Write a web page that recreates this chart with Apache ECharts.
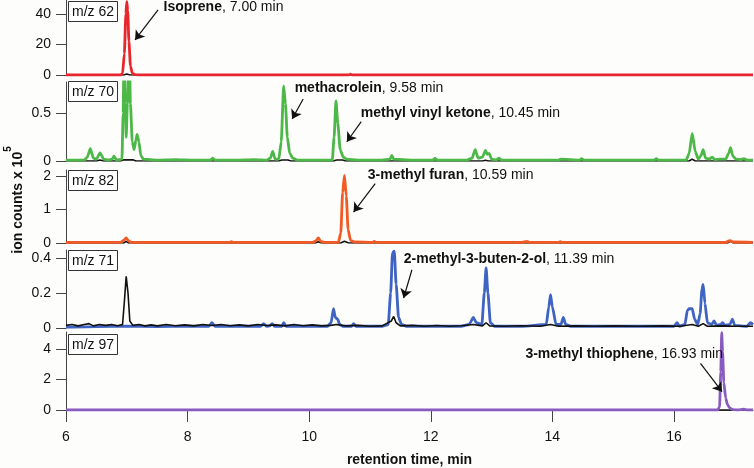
<!DOCTYPE html>
<html>
<head>
<meta charset="utf-8">
<script src="https://cdn.jsdelivr.net/npm/echarts@6/dist/echarts.min.js"></script>
<style>
html,body{margin:0;padding:0;background:#fdfdfb;}
#chart{width:754px;height:468px;}
</style>
</head>
<body>
<div id="chart"></div>
<script>
// ---------- DATA ----------
const panelLabels = ['m/z 62', 'm/z 70', 'm/z 82', 'm/z 71', 'm/z 97'];
const xTicks = [6, 8, 10, 12, 14, 16];
const yTicks = [[0, 20, 40], [0, 0.5], [0, 1, 2], [0, 0.2, 0.4], [0, 2, 4]];
const compounds = ['Isoprene', 'methacrolein', 'methyl vinyl ketone', '3-methyl furan', '2-methyl-3-buten-2-ol', '3-methyl thiophene'];
const retentionTimes = ['7.00', '9.58', '10.45', '10.59', '11.39', '16.93'];

// m/z 62 (red) and black reference trace
const mz62 = [[6.0,0],[6.9,0],[6.93,1],[6.96,14],[6.985,40],[7.0,48],[7.015,42],[7.035,22],[7.06,6],[7.09,1.2],[7.13,0.2],[7.2,0],[10.65,0],[10.68,0.5],[10.71,0],[17.3,0]];
const mz62ref = [[6.0,0],[6.95,0],[7.0,0.6],[7.05,0],[17.3,0]];

// m/z 70 (green)
const mz70 = [[6.0,0.01],[6.3,0.01],[6.35,0.04],[6.40,0.13],[6.45,0.03],[6.5,0.02],[6.56,0.085],[6.62,0.02],[6.7,0.01],[6.76,0.02],[6.79,0.05],[6.83,0.01],[6.92,0.02],[6.94,0.5],[6.955,1.2],[6.975,0.6],[6.99,0.25],[7.01,0.6],[7.04,1.2],[7.06,0.6],[7.09,0.2],[7.12,0.12],[7.15,0.22],[7.17,0.28],[7.2,0.2],[7.23,0.06],[7.27,0.02],[7.5,0.01],[7.8,0.015],[8.1,0.01],[8.38,0.01],[8.41,0.03],[8.45,0.01],[8.8,0.01],[9.1,0.015],[9.3,0.01],[9.36,0.03],[9.40,0.1],[9.44,0.02],[9.5,0.02],[9.54,0.2],[9.58,0.786],[9.61,0.6],[9.64,0.25],[9.68,0.08],[9.73,0.03],[9.8,0.01],[10.1,0.01],[10.38,0.01],[10.41,0.25],[10.44,0.63],[10.47,0.4],[10.51,0.12],[10.56,0.04],[10.62,0.02],[10.8,0.01],[11.2,0.01],[11.33,0.02],[11.36,0.06],[11.39,0.02],[11.7,0.01],[12.04,0.01],[12.07,0.03],[12.1,0.01],[12.6,0.01],[12.68,0.03],[12.73,0.12],[12.78,0.03],[12.85,0.04],[12.9,0.11],[12.93,0.07],[12.96,0.08],[13.0,0.02],[13.08,0.01],[13.12,0.03],[13.16,0.01],[13.5,0.01],[14.1,0.01],[14.14,0.02],[14.45,0.01],[14.48,0.025],[14.52,0.01],[15.0,0.01],[15.68,0.01],[15.71,0.025],[15.74,0.01],[16.2,0.01],[16.25,0.08],[16.30,0.29],[16.35,0.1],[16.4,0.02],[16.44,0.05],[16.48,0.12],[16.52,0.03],[16.58,0.02],[16.63,0.04],[16.67,0.015],[16.75,0.02],[16.85,0.02],[16.9,0.08],[16.93,0.14],[16.97,0.05],[17.02,0.02],[17.1,0.015],[17.15,0.025],[17.2,0.01],[17.3,0.01]];
const mz70ref = [[6,0],[6.5,0],[6.56,0.01],[6.62,0],[6.9,0],[6.95,0.012],[7.1,0.012],[7.15,0],[9.5,0],[9.55,0.01],[9.65,0.01],[9.7,0],[10.4,0],[10.45,0.01],[10.55,0.01],[10.6,0],[12.85,0],[12.9,0.008],[12.95,0],[16.25,0],[16.3,0.02],[16.35,0],[16.45,0],[16.48,0.01],[16.52,0],[16.6,0],[16.63,0.01],[16.67,0],[16.9,0],[16.93,0.012],[16.97,0],[17.3,0]];

// m/z 82 (orange)
const mz82 = [[6,0.02],[6.9,0.02],[6.95,0.08],[6.99,0.15],[7.03,0.06],[7.08,0.02],[8.0,0.02],[8.7,0.02],[8.72,0.04],[8.75,0.02],[10.05,0.02],[10.11,0.06],[10.15,0.15],[10.19,0.05],[10.25,0.02],[10.48,0.02],[10.52,0.3],[10.55,1.5],[10.58,2.02],[10.61,1.4],[10.64,0.4],[10.68,0.08],[10.75,0.03],[11.05,0.02],[11.07,0.05],[11.1,0.02],[13.5,0.02],[13.58,0.05],[13.62,0.02],[14.1,0.02],[14.13,0.04],[14.16,0.02],[16.85,0.02],[16.9,0.06],[16.93,0.07],[16.97,0.03],[17.3,0.02]];
const mz82ref = [[6,0],[6.95,0],[6.99,0.05],[7.03,0],[10.1,0],[10.15,0.04],[10.2,0],[10.52,0],[10.58,0.05],[10.65,0],[16.88,0],[16.93,0.05],[16.98,0],[17.3,0]];

// m/z 71 (blue)
const mz71 = [[6,0.005],[6.5,0.008],[7.0,0.01],[7.5,0.008],[8.0,0.01],[8.35,0.01],[8.40,0.03],[8.45,0.01],[8.9,0.01],[9.2,0.01],[9.25,0.025],[9.3,0.01],[9.35,0.012],[9.39,0.025],[9.43,0.01],[9.55,0.01],[9.58,0.03],[9.62,0.01],[10.3,0.01],[10.36,0.03],[10.40,0.11],[10.43,0.06],[10.47,0.05],[10.5,0.02],[10.55,0.01],[10.7,0.01],[10.73,0.025],[10.77,0.01],[11.2,0.01],[11.3,0.02],[11.34,0.2],[11.37,0.43],[11.40,0.44],[11.43,0.25],[11.47,0.06],[11.52,0.02],[11.6,0.01],[12.0,0.01],[12.5,0.01],[12.63,0.02],[12.7,0.06],[12.75,0.03],[12.84,0.02],[12.88,0.2],[12.91,0.343],[12.94,0.2],[12.98,0.03],[13.05,0.01],[13.5,0.01],[13.9,0.02],[13.94,0.12],[13.97,0.19],[14.0,0.12],[14.06,0.02],[14.14,0.02],[14.18,0.06],[14.22,0.02],[14.3,0.01],[15.0,0.01],[16.0,0.01],[16.05,0.03],[16.09,0.01],[16.18,0.02],[16.22,0.1],[16.25,0.11],[16.3,0.11],[16.34,0.05],[16.39,0.02],[16.43,0.08],[16.46,0.22],[16.48,0.25],[16.51,0.14],[16.55,0.03],[16.62,0.02],[16.66,0.04],[16.7,0.015],[16.77,0.02],[16.8,0.03],[16.84,0.015],[16.92,0.02],[16.96,0.05],[17.0,0.015],[17.2,0.01],[17.26,0.03],[17.3,0.02]];
const mz71ref = [[6,0.015],[6.1,0.02],[6.2,0.012],[6.3,0.02],[6.38,0.025],[6.45,0.012],[6.55,0.02],[6.65,0.015],[6.75,0.02],[6.85,0.013],[6.93,0.02],[6.96,0.15],[6.99,0.295],[7.02,0.2],[7.05,0.04],[7.1,0.015],[7.2,0.02],[7.3,0.012],[7.4,0.018],[7.5,0.012],[7.65,0.02],[7.8,0.013],[7.95,0.018],[8.1,0.012],[8.25,0.02],[8.4,0.014],[8.55,0.02],[8.7,0.013],[8.85,0.018],[9.0,0.012],[9.15,0.02],[9.3,0.014],[9.45,0.018],[9.6,0.012],[9.75,0.02],[9.9,0.013],[10.05,0.018],[10.2,0.012],[10.35,0.015],[10.45,0.02],[10.6,0.012],[10.8,0.015],[11.0,0.01],[11.2,0.012],[11.35,0.04],[11.39,0.066],[11.43,0.03],[11.5,0.012],[11.7,0.015],[11.9,0.01],[12.1,0.014],[12.3,0.01],[12.5,0.013],[12.7,0.02],[12.85,0.012],[12.91,0.03],[12.97,0.012],[13.2,0.01],[13.5,0.013],[13.8,0.01],[13.97,0.02],[14.1,0.01],[14.4,0.012],[14.7,0.01],[15.0,0.012],[15.4,0.01],[15.8,0.012],[16.1,0.01],[16.3,0.02],[16.4,0.01],[16.48,0.025],[16.55,0.01],[16.8,0.012],[17.0,0.01],[17.3,0.01]];

// m/z 97 (purple)
const mz97 = [[6,0],[16.72,0],[16.75,0.2],[16.77,2.5],[16.785,5.07],[16.80,3.8],[16.82,1.8],[16.85,0.8],[16.88,0.35],[16.92,0.12],[16.97,0.03],[17.05,0],[17.15,0.05],[17.2,0],[17.3,0]];
const mz97ref = [[6,0],[17.3,0]];

// ---------- LAYOUT / STYLE ----------
const FONT = '"Liberation Sans", Arial, Helvetica, sans-serif';
const TXT = '#111';
const AX = '#444';
const xMin = 6, xMax = 17.3;
const grids = [
  {top: 0, height: 75, ymax: 49},
  {top: 82, height: 79, ymax: 0.828},
  {top: 170, height: 73, ymax: 2.18},
  {top: 250, height: 78, ymax: 0.446},
  {top: 332, height: 78, ymax: 5.11}
];
const boxTops = [1, 81, 170, 250, 334];
const colors = ['#e8262d', '#4cb848', '#f15a24', '#3f63c2', '#8a5bbf'];
const mainData = [mz62, mz70, mz82, mz71, mz97];
const refData = [mz62ref, mz70ref, mz82ref, mz71ref, mz97ref];

// annotation placement (data coordinates of each panel)
const annot = [
  {panel: 0, text: [7.597, 44.4], side: 'right', arrow: [[7.514, 42.5], [7.136, 22.9]]},
  {panel: 1, text: [9.753, 0.765], side: 'right', arrow: [[9.901, 0.65], [9.72, 0.44]]},
  {panel: 1, text: [10.84, 0.503], side: 'right', arrow: [[10.856, 0.412], [10.62, 0.202]]},
  {panel: 2, text: [10.955, 2.02], side: 'right', arrow: [[11.086, 1.773], [10.73, 0.925]]},
  {panel: 3, text: [11.547, 0.396], side: 'right', arrow: [[11.69, 0.333], [11.553, 0.171]]},
  {panel: 4, text: [16.815, 3.67], side: 'left', arrow: [[16.436, 3.06], [16.79, 1.2]]}
];

const option = {
  backgroundColor: '#fdfdfb',
  animation: false,
  title: panelLabels.map((t, i) => ({
    text: t, left: 68, top: boxTops[i],
    padding: [4, 4, 3, 4],
    backgroundColor: '#ffffff', borderColor: '#333', borderWidth: 1,
    textStyle: {fontSize: 14, fontWeight: 'normal', color: TXT, fontFamily: FONT}
  })),
  grid: grids.map(g => ({left: 66, right: 1, top: g.top, height: g.height})),
  xAxis: grids.map((g, i) => ({
    type: 'value', gridIndex: i, min: xMin, max: xMax, interval: 2,
    show: i === 4,
    axisLine: {show: true, onZero: false, lineStyle: {color: AX, width: 1}},
    axisTick: {show: true, inside: false, length: 12, lineStyle: {color: AX}, customValues: xTicks},
    axisLabel: {show: true, margin: 20, fontSize: 14, color: TXT, fontFamily: FONT, customValues: xTicks},
    splitLine: {show: false},
    name: i === 4 ? 'retention time, min' : '',
    nameLocation: 'middle', nameGap: 43,
    nameTextStyle: {fontSize: 14, fontWeight: 'bold', color: TXT, fontFamily: FONT}
  })),
  yAxis: grids.map((g, i) => ({
    type: 'value', gridIndex: i, min: 0, max: g.ymax,
    axisLine: {show: true, onZero: false, lineStyle: {color: AX, width: 1}},
    axisTick: {show: true, inside: false, length: 10, lineStyle: {color: AX}, customValues: yTicks[i]},
    axisLabel: {show: true, margin: 15, fontSize: 14, color: TXT, fontFamily: FONT, customValues: yTicks[i]},
    splitLine: {show: false}
  })),
  graphic: [{
    type: 'text', x: 14, y: 200, rotation: Math.PI / 2,
    style: {
      text: '{a|ion counts x 10}{s|5}',
      textAlign: 'center', textVerticalAlign: 'middle', fill: TXT,
      rich: {
        a: {fontSize: 14, fontWeight: 'bold', fontFamily: FONT, fill: TXT, lineHeight: 22, verticalAlign: 'bottom'},
        s: {fontSize: 10, fontWeight: 'bold', fontFamily: FONT, fill: TXT, lineHeight: 22, verticalAlign: 'top'}
      }
    }
  }],
  series: []
};

for (let i = 0; i < 5; i++) {
  const ref = {
    type: 'line', xAxisIndex: i, yAxisIndex: i, data: refData[i],
    showSymbol: false, symbol: 'none', clip: true, z: i === 3 ? 3 : 1,
    lineStyle: {color: '#111', width: 1.6}, itemStyle: {color: '#111'}
  };
  const main = {
    type: 'line', xAxisIndex: i, yAxisIndex: i, data: mainData[i],
    showSymbol: false, symbol: 'none', clip: true, z: 2,
    smooth: 0.2, smoothMonotone: 'x',
    lineStyle: {color: colors[i], width: 2.8}, itemStyle: {color: colors[i]},
    markLine: {data: [], silent: true, symbol: ['none', 'arrow'], symbolSize: 9,
      itemStyle: {color: '#111'},
      lineStyle: {color: '#111', width: 1.2, type: 'solid'}, label: {show: false}, animation: false},
    markPoint: {data: [], silent: true, symbol: 'circle', symbolSize: 1,
      itemStyle: {color: 'rgba(0,0,0,0)'}, animation: false}
  };
  annot.forEach((a, k) => {
    if (a.panel !== i) return;
    main.markLine.data.push([{coord: a.arrow[0]}, {coord: a.arrow[1]}]);
    main.markPoint.data.push({
      coord: a.text,
      label: {
        show: true, position: a.side, distance: 0,
        formatter: '{b|' + compounds[k] + '}{n|, ' + retentionTimes[k] + ' min}',
        rich: {
          b: {fontSize: 14, fontWeight: 'bold', color: TXT, fontFamily: FONT},
          n: {fontSize: 14, fontWeight: 'normal', color: TXT, fontFamily: FONT}
        }
      }
    });
  });
  option.series.push(ref, main);
}

const chart = echarts.init(document.getElementById('chart'), null, {renderer: 'canvas'});
chart.setOption(option);
</script>
</body>
</html>
